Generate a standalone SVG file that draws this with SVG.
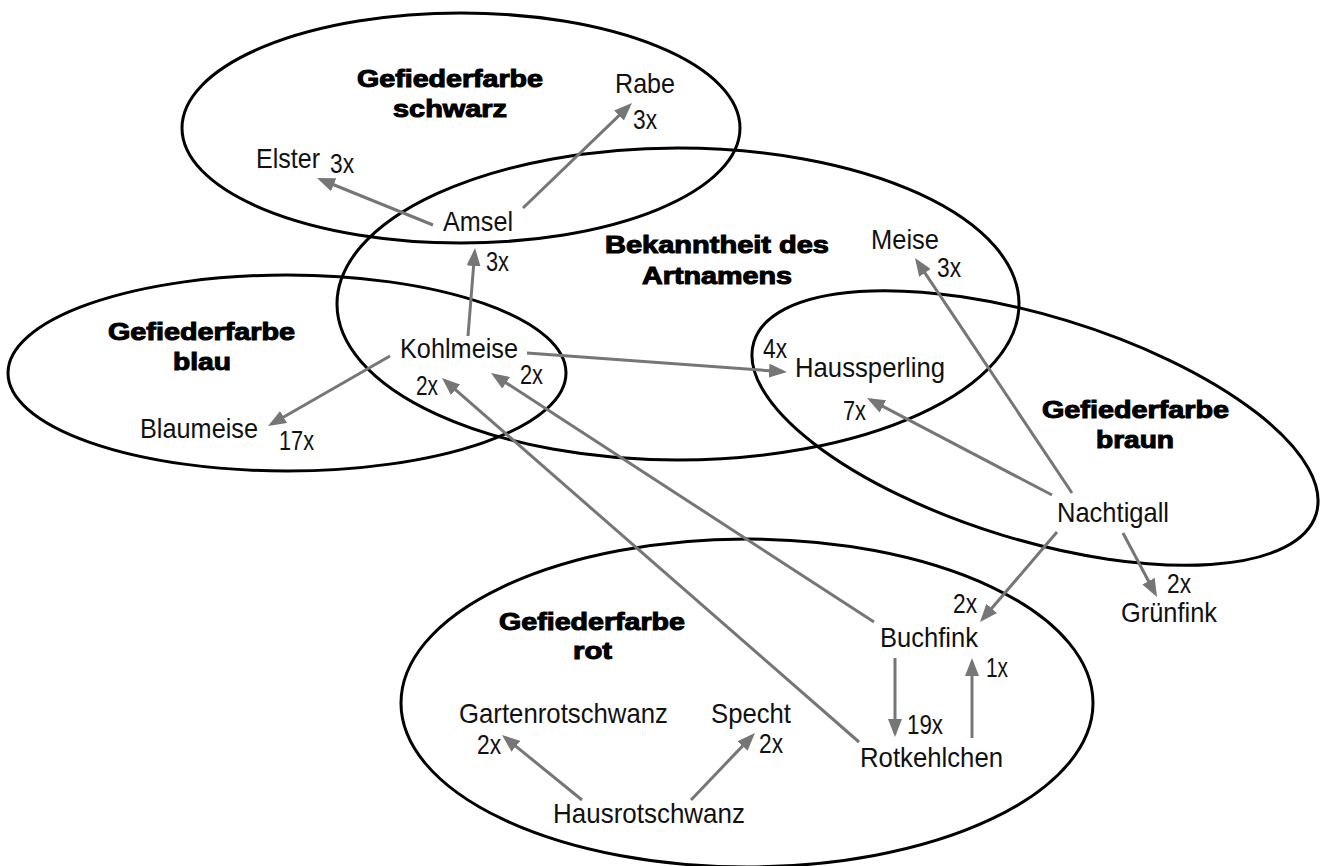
<svg xmlns="http://www.w3.org/2000/svg" width="1325" height="866" viewBox="0 0 1325 866">
<defs>
<style>
.set{fill:none;stroke:#000;stroke-width:3}
.hd{font-family:"Liberation Sans",Arial,sans-serif;font-weight:900;font-size:23px;fill:#000;stroke:#000;stroke-width:1}
.t{font-family:"Liberation Sans Narrow","Liberation Sans",Arial,sans-serif;font-size:28px;fill:#111}
.e{fill:none;stroke:#767676;stroke-width:3}
</style>
<marker id="ah" markerUnits="userSpaceOnUse" markerWidth="18" markerHeight="14" refX="14" refY="7" orient="auto">
<path d="M0,0 L18,7 L0,14 z" fill="#767676"/>
</marker>
</defs>
<rect width="1325" height="866" fill="#fff"/>

<g id="set-schwarz">
<ellipse class="set" cx="461" cy="128" rx="279" ry="115"/>
<text class="hd" x="357" y="87" textLength="186" lengthAdjust="spacingAndGlyphs">Gefiederfarbe</text>
<text class="hd" x="393" y="117" textLength="114" lengthAdjust="spacingAndGlyphs">schwarz</text>
</g>
<g id="set-bekanntheit">
<ellipse class="set" cx="678" cy="304" rx="341" ry="156"/>
<text class="hd" x="605" y="253" textLength="224" lengthAdjust="spacingAndGlyphs">Bekanntheit des</text>
<text class="hd" x="642" y="284" textLength="150" lengthAdjust="spacingAndGlyphs">Artnamens</text>
</g>
<g id="set-blau">
<ellipse class="set" cx="287" cy="373" rx="279" ry="98"/>
<text class="hd" x="108" y="340" textLength="187" lengthAdjust="spacingAndGlyphs">Gefiederfarbe</text>
<text class="hd" x="173" y="370" textLength="58" lengthAdjust="spacingAndGlyphs">blau</text>
</g>
<g id="set-braun">
<ellipse class="set" cx="1035" cy="428" rx="294" ry="112" transform="rotate(17 1035 428)"/>
<text class="hd" x="1042" y="418" textLength="187" lengthAdjust="spacingAndGlyphs">Gefiederfarbe</text>
<text class="hd" x="1096" y="448" textLength="78" lengthAdjust="spacingAndGlyphs">braun</text>
</g>
<g id="set-rot">
<ellipse class="set" cx="747" cy="703" rx="346" ry="164"/>
<text class="hd" x="499" y="630" textLength="186" lengthAdjust="spacingAndGlyphs">Gefiederfarbe</text>
<text class="hd" x="573" y="659" textLength="39" lengthAdjust="spacingAndGlyphs">rot</text>
</g>

<g id="connectors">
<line class="e" x1="433" y1="225" x2="320.7" y2="179.5" marker-end="url(#ah)"/>
<line class="e" x1="523" y1="208" x2="629.1" y2="105.8" marker-end="url(#ah)"/>
<line class="e" x1="468" y1="336" x2="474.7" y2="252" marker-end="url(#ah)"/>
<line class="e" x1="527" y1="353" x2="783" y2="371.7" marker-end="url(#ah)"/>
<line class="e" x1="390" y1="356" x2="271.5" y2="424" marker-end="url(#ah)"/>
<line class="e" x1="859" y1="742" x2="445" y2="380.6" marker-end="url(#ah)"/>
<line class="e" x1="874" y1="622" x2="494.4" y2="375.2" marker-end="url(#ah)"/>
<line class="e" x1="1072" y1="493" x2="917.2" y2="261.3" marker-end="url(#ah)"/>
<line class="e" x1="1052" y1="495" x2="870.5" y2="399.9" marker-end="url(#ah)"/>
<line class="e" x1="1057" y1="532" x2="982.6" y2="619" marker-end="url(#ah)"/>
<line class="e" x1="1123" y1="533" x2="1155.1" y2="593.5" marker-end="url(#ah)"/>
<line class="e" x1="895" y1="658" x2="895" y2="733" marker-end="url(#ah)"/>
<line class="e" x1="972" y1="738" x2="972" y2="662" marker-end="url(#ah)"/>
<line class="e" x1="582" y1="800" x2="505.1" y2="737.5" marker-end="url(#ah)"/>
<line class="e" x1="691" y1="800" x2="752.2" y2="735.9" marker-end="url(#ah)"/>
<text class="t" x="330" y="173" textLength="24" lengthAdjust="spacingAndGlyphs">3x</text>
<text class="t" x="633" y="129" textLength="24" lengthAdjust="spacingAndGlyphs">3x</text>
<text class="t" x="486" y="271" textLength="23" lengthAdjust="spacingAndGlyphs">3x</text>
<text class="t" x="763" y="358" textLength="24" lengthAdjust="spacingAndGlyphs">4x</text>
<text class="t" x="279" y="450" textLength="35" lengthAdjust="spacingAndGlyphs">17x</text>
<text class="t" x="416" y="395" textLength="22" lengthAdjust="spacingAndGlyphs">2x</text>
<text class="t" x="520" y="384" textLength="23" lengthAdjust="spacingAndGlyphs">2x</text>
<text class="t" x="937" y="277" textLength="24" lengthAdjust="spacingAndGlyphs">3x</text>
<text class="t" x="843" y="420" textLength="23" lengthAdjust="spacingAndGlyphs">7x</text>
<text class="t" x="953" y="613" textLength="24" lengthAdjust="spacingAndGlyphs">2x</text>
<text class="t" x="1167" y="593" textLength="24" lengthAdjust="spacingAndGlyphs">2x</text>
<text class="t" x="907" y="734" textLength="36" lengthAdjust="spacingAndGlyphs">19x</text>
<text class="t" x="986" y="677" textLength="22" lengthAdjust="spacingAndGlyphs">1x</text>
<text class="t" x="477" y="754" textLength="24" lengthAdjust="spacingAndGlyphs">2x</text>
<text class="t" x="759" y="753" textLength="24" lengthAdjust="spacingAndGlyphs">2x</text>
</g>

<g id="n-elster"><text class="t" x="256" y="168" textLength="64" lengthAdjust="spacingAndGlyphs">Elster</text></g>
<g id="n-rabe"><text class="t" x="615" y="93" textLength="60" lengthAdjust="spacingAndGlyphs">Rabe</text></g>
<g id="n-amsel"><text class="t" x="443" y="231" textLength="70" lengthAdjust="spacingAndGlyphs">Amsel</text></g>
<g id="n-kohlmeise"><text class="t" x="400" y="358" textLength="118" lengthAdjust="spacingAndGlyphs">Kohlmeise</text></g>
<g id="n-blaumeise"><text class="t" x="140" y="438" textLength="118" lengthAdjust="spacingAndGlyphs">Blaumeise</text></g>
<g id="n-meise"><text class="t" x="871" y="249" textLength="68" lengthAdjust="spacingAndGlyphs">Meise</text></g>
<g id="n-haussperling"><text class="t" x="795" y="377" textLength="150" lengthAdjust="spacingAndGlyphs">Haussperling</text></g>
<g id="n-nachtigall"><text class="t" x="1057" y="522" textLength="112" lengthAdjust="spacingAndGlyphs">Nachtigall</text></g>
<g id="n-gruenfink"><text class="t" x="1121" y="622" textLength="96" lengthAdjust="spacingAndGlyphs">Grünfink</text></g>
<g id="n-buchfink"><text class="t" x="880" y="647" textLength="98" lengthAdjust="spacingAndGlyphs">Buchfink</text></g>
<g id="n-rotkehlchen"><text class="t" x="860" y="767" textLength="143" lengthAdjust="spacingAndGlyphs">Rotkehlchen</text></g>
<g id="n-gartenrotschwanz"><text class="t" x="459" y="723" textLength="209" lengthAdjust="spacingAndGlyphs">Gartenrotschwanz</text></g>
<g id="n-specht"><text class="t" x="711" y="723" textLength="80" lengthAdjust="spacingAndGlyphs">Specht</text></g>
<g id="n-hausrotschwanz"><text class="t" x="553" y="823" textLength="192" lengthAdjust="spacingAndGlyphs">Hausrotschwanz</text></g>
</svg>
